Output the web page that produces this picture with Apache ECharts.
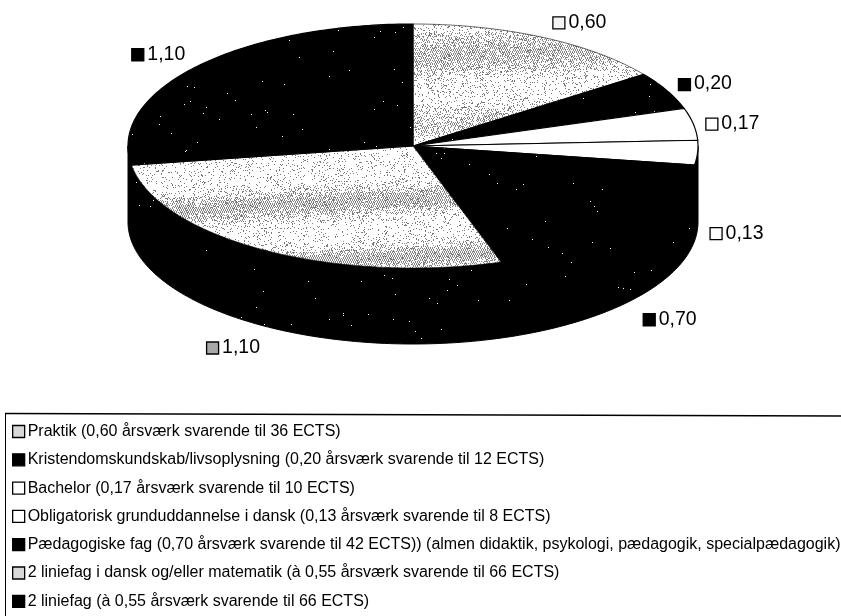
<!DOCTYPE html>
<html>
<head>
<meta charset="utf-8">
<style>html,body{margin:0;padding:0;background:#fff}#c{width:841px;height:616px}</style>
<script src="https://cdn.jsdelivr.net/npm/echarts@6/dist/echarts.min.js"></script>
</head>
<body>
<div id="c"></div>
<script>
// ---- data ----
var categories = [
  'Praktik (0,60 årsværk svarende til 36 ECTS)',
  'Kristendomskundskab/livsoplysning (0,20 årsværk svarende til 12 ECTS)',
  'Bachelor (0,17 årsværk svarende til 10 ECTS)',
  'Obligatorisk grunduddannelse i dansk (0,13 årsværk svarende til 8 ECTS)',
  'Pædagogiske fag (0,70 årsværk svarende til 42 ECTS)) (almen didaktik, psykologi, pædagogik, specialpædagogik)',
  '2 liniefag i dansk og/eller matematik (à 0,55 årsværk svarende til 66 ECTS)',
  '2 liniefag (à 0,55 årsværk svarende til 66 ECTS)'
];
var values = [0.60, 0.20, 0.17, 0.13, 0.70, 1.10, 1.10];
var valueLabels = ['0,60', '0,20', '0,17', '0,13', '0,70', '1,10', '1,10'];

// ---- layout and style ----
var CX = 413, CY = 146, RX = 285, RY = 122, DEPTH = 76;
var labelOffsets = [[10,-15],[11,-6.5],[12,-0.5],[12,80.5],[13,94],[-58,97.5],[-65,-12.5]];
var kinds = ['hatch','black','white','white','black','hatch','black'];
var labelMarkerFill = ['#f4f4f4','#000','#fff','#fff','#000','#a8a8a8','#000'];
var legendMarkerFill = ['#d8d8d8','#000','#fff','#fff','#000','#d8d8d8','#000'];

function noise(x, y) {
  var s = Math.sin(x * 12.9898 + y * 78.233) * 43758.5453;
  return s - Math.floor(s);
}
function makeTexture(kind) {
  var w = 841, h = 400;
  var cv = document.createElement('canvas');
  cv.width = w; cv.height = h;
  var ctx = cv.getContext('2d');
  var img = ctx.createImageData(w, h), d = img.data;
  var bands = [[62,20,.85],[130,13,.6],[204,13,.95],[262,11,1]];
  for (var y = 0; y < h; y++) {
    for (var x = 0; x < w; x++) {
      var v = 255, i = (y * w + x) * 4;
      if (kind === 'black') {
        v = noise(x, y) < 0.0012 ? 255 : 0;
      } else {
        var yy = y + 0.05 * (x - 300), p = 0.04;
        for (var b = 0; b < bands.length; b++) {
          var t = (yy - bands[b][0]) / bands[b][1];
          p = Math.max(p, bands[b][2] * Math.exp(-t * t));
        }
        var hatch = (((2 * x - y) % 4) + 4) % 4 < 2;
        if (hatch && noise(x, y) < p) v = 135;
        else if (noise(y + 3.1, x + 7.7) < 0.07) v = 120;
      }
      d[i] = d[i+1] = d[i+2] = v; d[i+3] = 255;
    }
  }
  ctx.putImageData(img, 0, 0);
  return cv;
}
var hatchFill = { image: makeTexture('hatch'), repeat: 'repeat' };
var blackFill = { image: makeTexture('black'), repeat: 'repeat' };
function fillFor(kind) {
  return kind === 'hatch' ? hatchFill : kind === 'black' ? blackFill : '#fff';
}

var total = values.reduce(function (a, b) { return a + b; }, 0);
function angleOf(v) {
  return echarts.number.linearMap(v, [0, total], [0, 360]);
}
function pt(deg, dy) {
  var r = deg * Math.PI / 180;
  return [CX + RX * Math.sin(r), CY - RY * Math.cos(r) + (dy || 0)];
}
function arc(a0, a1, dy) {
  var pts = [], n = Math.max(2, Math.ceil(Math.abs(a1 - a0)));
  for (var i = 0; i <= n; i++) pts.push(pt(a0 + (a1 - a0) * i / n, dy));
  return pts;
}

function renderSlice(index) {
  return function (params, api) {
    var before = 0;
    for (var i = 0; i < index; i++) before += values[i];
    var v = api.value(0);
    var a0 = angleOf(before), a1 = angleOf(before + v), children = [];
    var w0 = Math.max(a0, 90), w1 = Math.min(a1, 270);
    if (w1 > w0) {
      children.push({
        type: 'polygon',
        shape: { points: arc(w0, w1, 0).concat(arc(w1, w0, DEPTH)) },
        style: { fill: blackFill, stroke: '#000', lineWidth: 1 }
      });
    }
    children.push({
      type: 'polygon',
      shape: { points: [[CX, CY]].concat(arc(a0, a1, 0)) },
      style: { fill: fillFor(kinds[index]), stroke: '#000', lineWidth: kinds[index] === 'hatch' ? 0.6 : 1.2 }
    });
    var mid = pt((a0 + a1) / 2, 0);
    var mx = mid[0] + labelOffsets[index][0], my = mid[1] + labelOffsets[index][1];
    children.push({
      type: 'rect',
      shape: { x: mx + 0.5, y: my - 5.5, width: 12, height: 12 },
      style: { fill: labelMarkerFill[index], stroke: '#000', lineWidth: 1.3 }
    });
    children.push({
      type: 'text',
      style: {
        x: mx + 16, y: my, text: valueLabels[index], fill: '#000',
        font: '19.5px "Liberation Sans", Arial, sans-serif',
        verticalAlign: 'middle', align: 'left'
      }
    });
    return { type: 'group', children: children };
  };
}

var series = categories.map(function (name, i) {
  return {
    name: name, type: 'custom', coordinateSystem: 'none',
    data: [[values[i]]], renderItem: renderSlice(i),
    animation: false, silent: true,
    itemStyle: { color: legendMarkerFill[i] }
  };
});

var chart = echarts.init(document.getElementById('c'), null, { renderer: 'canvas' });
chart.setOption({
  animation: false,
  backgroundColor: '#fff',
  legend: {
    orient: 'vertical', left: 12, top: 423.5, padding: 0,
    itemWidth: 12, itemHeight: 12, itemGap: 12.3,
    selectedMode: false,
    icon: 'rect',
    textStyle: { color: '#000', fontFamily: '"Liberation Sans", Arial, sans-serif', fontSize: 16, padding: [0,0,0,-2] },
    data: categories.map(function (n, i) {
      return { name: n, itemStyle: { color: legendMarkerFill[i], borderColor: '#000', borderWidth: 1.3 } };
    })
  },
  graphic: [
    { type: 'line', shape: { x1: 5, y1: 413.5, x2: 841, y2: 416 }, style: { stroke: '#000', lineWidth: 1.4 } },
    { type: 'line', shape: { x1: 5.5, y1: 413, x2: 5.5, y2: 616 }, style: { stroke: '#000', lineWidth: 1 } }
  ],
  series: series
});
</script>
</body>
</html>
